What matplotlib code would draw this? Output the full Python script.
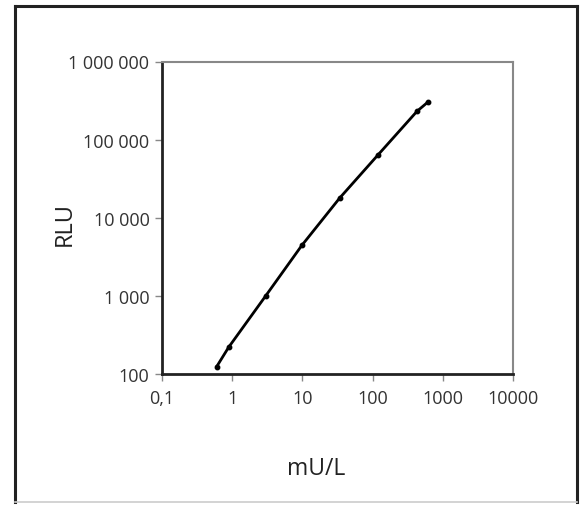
import matplotlib
matplotlib.use("Agg")
import matplotlib.pyplot as plt
from matplotlib.ticker import FixedLocator, NullLocator
from matplotlib.lines import Line2D

# Data
conc_mU_L = [0.60, 0.89, 3.0, 9.8, 34, 118, 430, 617]
rlu = [124, 220, 1000, 4420, 17900, 63000, 231000, 304000]

x_ticks = [0.1, 1, 10, 100, 1000, 10000]
x_tick_labels = ["0,1", "1", "10", "100", "1000", "10000"]
y_ticks = [100, 1000, 10000, 100000, 1000000]
y_tick_labels = ["100", "1 000", "10 000", "100 000", "1 000 000"]

plt.rcParams['font.family'] = ['Open Sans', 'DejaVu Sans']

fig = plt.figure(figsize=(5.82, 5.06), dpi=100)
ax = fig.add_axes([162/582, 1-375/506, (513-162)/582, (375-62.5)/506])

ax.plot(conc_mU_L, rlu, color='black', lw=2.0, marker='o', ms=3.2,
        solid_capstyle='round')

ax.set_xscale('log')
ax.set_yscale('log')
ax.set_xlim(0.1, 10000)
ax.set_ylim(100, 1000000)

ax.xaxis.set_major_locator(FixedLocator(x_ticks))
ax.xaxis.set_minor_locator(NullLocator())
ax.set_xticklabels(x_tick_labels)
ax.yaxis.set_major_locator(FixedLocator(y_ticks))
ax.yaxis.set_minor_locator(NullLocator())
ax.set_yticklabels(y_tick_labels)

ax.tick_params(axis='both', which='major', direction='out', length=5,
               width=1, color='#888888', labelsize=13, labelcolor='#333333')
ax.tick_params(axis='x', pad=6)
ax.tick_params(axis='y', pad=4)

for s in ['left', 'bottom']:
    ax.spines[s].set_color('#222222')
    ax.spines[s].set_linewidth(2.0)
for s in ['top', 'right']:
    ax.spines[s].set_color('#888888')
    ax.spines[s].set_linewidth(1.5)

fig.text(65/582, 1-224/506, "RLU", rotation=90, ha='center', va='center',
         fontsize=17, color='#222222')
fig.text(316/582, 1-469/506, "mU/L", ha='center', va='center',
         fontsize=16.5, color='#222222')

# Outer frame
L, R, T, B = 15/582, 577/582, 1-6.5/506, 1-503/506
fig.add_artist(Line2D([L, L], [B, T], transform=fig.transFigure, color='#222222', lw=2.2))
fig.add_artist(Line2D([R, R], [B, T], transform=fig.transFigure, color='#222222', lw=2.2))
fig.add_artist(Line2D([L, R], [T, T], transform=fig.transFigure, color='#222222', lw=2.2))
fig.add_artist(Line2D([L, R], [B, B], transform=fig.transFigure, color='#cccccc', lw=1.2))

fig.savefig("out.png", dpi=100, facecolor='white')
